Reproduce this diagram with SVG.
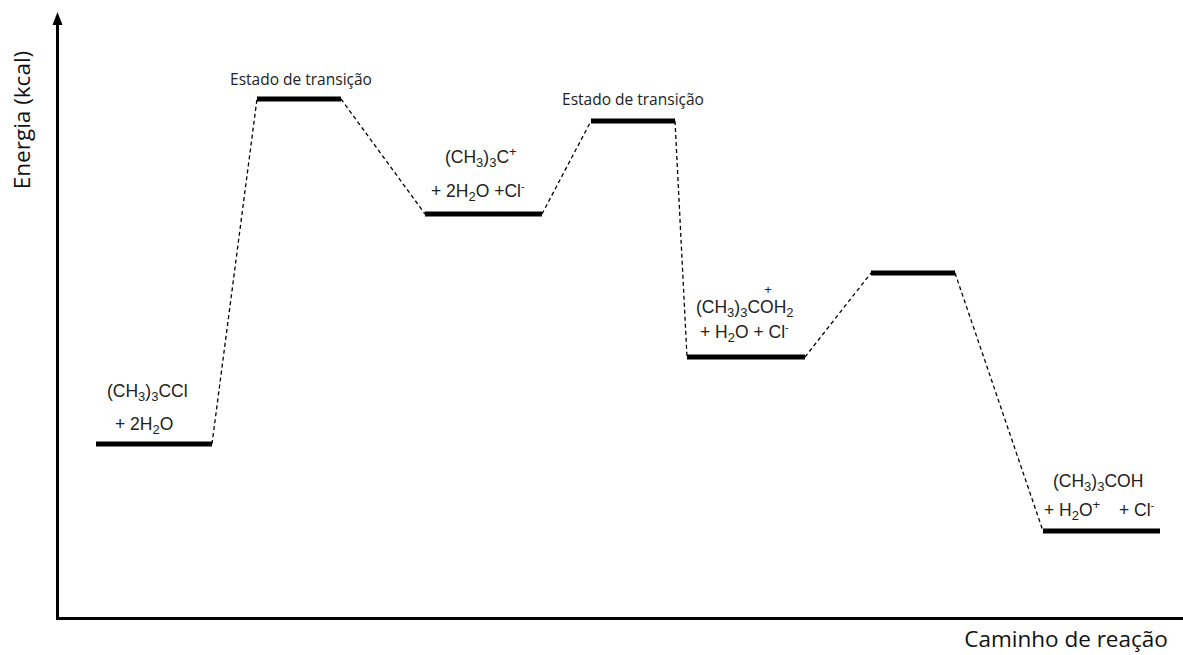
<svg xmlns="http://www.w3.org/2000/svg" width="1183" height="655" viewBox="0 0 1183 655">
<style>
.lvl{stroke:#000;stroke-width:5;fill:none}
.dash{stroke:#000;stroke-width:1.3;stroke-dasharray:4,3;fill:none}
.axis{stroke:#000;stroke-width:3;fill:none}
.chem{font-family:"Liberation Sans",Arial,sans-serif;font-size:17.5px;fill:#222}
.sb{font-size:13px}
.ts{font-family:"Open Sans","Noto Sans",sans-serif;font-size:15.5px;fill:#222}
.ax{font-family:"Open Sans","Noto Sans",sans-serif;font-size:22.5px;fill:#111}
</style>
<rect width="1183" height="655" fill="#fff"/>
<g id="axes">
<line class="axis" x1="57.5" y1="620" x2="57.5" y2="22"/>
<path d="M52.5,25 L57.5,12 L62.5,25 Z" fill="#000"/>
<line class="axis" x1="56" y1="618.5" x2="1183" y2="618.5"/>
<text class="ax" transform="translate(30,120) rotate(-90)" text-anchor="middle">Energia (kcal)</text>
<text class="ax" x="1066" y="647" text-anchor="middle">Caminho de reação</text>
</g>
<g id="connectors">
<line class="dash" x1="212" y1="444" x2="257" y2="99"/>
<line class="dash" x1="341" y1="99" x2="425" y2="214"/>
<line class="dash" x1="542" y1="214" x2="591" y2="121"/>
<line class="dash" x1="675" y1="121" x2="687" y2="357"/>
<line class="dash" x1="805" y1="357" x2="871" y2="273"/>
<line class="dash" x1="955" y1="273" x2="1043" y2="531"/>
</g>
<g id="reactant">
<line class="lvl" x1="96" y1="444" x2="212" y2="444"/>
<text class="chem" x="107" y="397">(CH<tspan class="sb" dy="4">3</tspan><tspan dy="-4">)</tspan><tspan class="sb" dy="4">3</tspan><tspan dy="-4">CCl</tspan></text>
<text class="chem" x="115" y="430">+  2H<tspan class="sb" dy="4">2</tspan><tspan dy="-4">O</tspan></text>
</g>
<g id="ts1">
<line class="lvl" x1="257" y1="99" x2="341" y2="99"/>
<text class="ts" x="301" y="85" text-anchor="middle">Estado de transição</text>
</g>
<g id="intermediate1">
<line class="lvl" x1="425" y1="214" x2="542" y2="214"/>
<text class="chem" x="445" y="163">(CH<tspan class="sb" dy="4">3</tspan><tspan dy="-4">)</tspan><tspan class="sb" dy="4">3</tspan><tspan dy="-4">C</tspan><tspan class="sb" dy="-7">+</tspan></text>
<text class="chem" x="431" y="197">+ 2H<tspan class="sb" dy="4">2</tspan><tspan dy="-4">O +Cl</tspan><tspan font-size="11" dy="-7">-</tspan></text>
</g>
<g id="ts2">
<line class="lvl" x1="591" y1="121" x2="675" y2="121"/>
<text class="ts" x="633" y="105" text-anchor="middle">Estado de transição</text>
</g>
<g id="intermediate2">
<line class="lvl" x1="687" y1="357" x2="805" y2="357"/>
<text class="chem" x="696" y="313">(CH<tspan class="sb" dy="4">3</tspan><tspan dy="-4">)</tspan><tspan class="sb" dy="4">3</tspan><tspan dy="-4">COH</tspan><tspan class="sb" dy="4">2</tspan></text>
<text class="chem sb" x="768" y="294" text-anchor="middle" fill="#222">+</text>
<text class="chem" x="700" y="338">+ H<tspan class="sb" dy="4">2</tspan><tspan dy="-4">O + Cl</tspan><tspan font-size="11" dy="-7">-</tspan></text>
</g>
<g id="ts3">
<line class="lvl" x1="871" y1="273" x2="955" y2="273"/>
</g>
<g id="product">
<line class="lvl" x1="1043" y1="531" x2="1160" y2="531"/>
<text class="chem" x="1053" y="487">(CH<tspan class="sb" dy="4">3</tspan><tspan dy="-4">)</tspan><tspan class="sb" dy="4">3</tspan><tspan dy="-4">COH</tspan></text>
<text class="chem" x="1044" y="516">+ H<tspan class="sb" dy="4">2</tspan><tspan dy="-4">O</tspan><tspan class="sb" dy="-7">+</tspan><tspan x="1119" dy="7">+ Cl</tspan><tspan font-size="11" dy="-7">-</tspan></text>
</g>
</svg>
